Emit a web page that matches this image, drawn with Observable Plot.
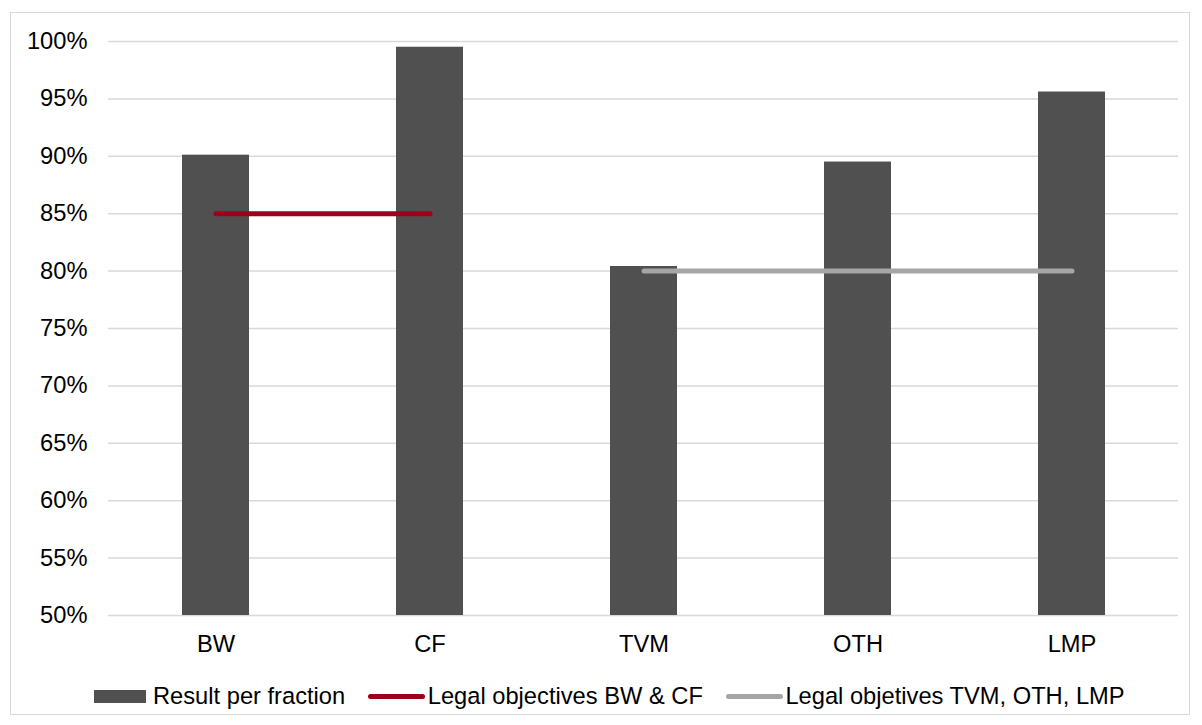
<!DOCTYPE html>
<html>
<head>
<meta charset="utf-8">
<script src="https://cdn.jsdelivr.net/npm/d3@7"></script>
<script src="https://cdn.jsdelivr.net/npm/@observablehq/plot@0.6"></script>
<style>
  html, body { margin: 0; padding: 0; background: #fff; }
  #wrap { position: relative; width: 1202px; height: 725px; font-family: "Liberation Sans", Arial, sans-serif; }
  #frame { position: absolute; left: 10px; top: 12px; width: 1180px; height: 703px; border: 1.5px solid #d9d9d9; box-sizing: border-box; }
  #chart { position: absolute; left: 0; top: 0; }
  #legend { position: absolute; left: 94px; top: 682px; height: 28px; display: flex; align-items: center; font-size: 23.7px; line-height: 28px; color: #000; white-space: nowrap; }
  .item { display: flex; align-items: center; margin-right: 23px; }
  .box { width: 52px; height: 13px; margin-right: 7px; }
  .ln { width: 57px; height: 5px; border-radius: 3px; margin-right: 2.5px; }
</style>
</head>
<body>
<div id="wrap">
  <div id="frame"></div>
  <div id="chart"></div>
  <div id="legend"></div>
</div>
<script>
const categories = ["BW", "CF", "TVM", "OTH", "LMP"];
const results = [0.901, 0.995, 0.804, 0.895, 0.956];
const legalBWCFCats = ["BW", "CF"];
const legalBWCF = [0.85, 0.85];
const legalOtherCats = ["TVM", "OTH", "LMP"];
const legalOther = [0.80, 0.80, 0.80];
const yTicks = [0.5, 0.55, 0.6, 0.65, 0.7, 0.75, 0.8, 0.85, 0.9, 0.95, 1.0];
const seriesNames = ["Result per fraction", "Legal objectives BW & CF", "Legal objetives TVM, OTH, LMP"];
const colors = ["#505050", "#9e0019", "#a6a6a6"];

const barData = categories.map((c, i) => ({cat: c, value: results[i]}));
const redData = legalBWCFCats.map((c, i) => ({cat: c, value: legalBWCF[i]}));
const grayData = legalOtherCats.map((c, i) => ({cat: c, value: legalOther[i]}));

const chart = Plot.plot({
  width: 1202,
  height: 665,
  marginLeft: 108,
  marginRight: 24,
  marginTop: 41,
  marginBottom: 50,
  style: {fontFamily: "Liberation Sans, Arial, sans-serif", fontSize: "23.7px", color: "#000", background: "transparent"},
  x: {domain: categories, paddingInner: 0.687, paddingOuter: 0.3435, label: null, tickSize: 0, tickPadding: 20},
  y: {domain: [0.5, 1.0], ticks: yTicks, tickFormat: d3.format(".0%"), label: null, tickSize: 0, tickPadding: 21},
  marks: [
    Plot.gridY(yTicks, {stroke: "#d9d9d9", strokeOpacity: 1, strokeWidth: 1.5}),
    Plot.barY(barData, {x: "cat", y1: 0.5, y2: "value", fill: colors[0]}),
    Plot.line(redData, {x: "cat", y: "value", stroke: colors[1], strokeWidth: 5, strokeLinecap: "round"}),
    Plot.line(grayData, {x: "cat", y: "value", stroke: colors[2], strokeWidth: 5, strokeLinecap: "round"})
  ]
});
document.getElementById("chart").appendChild(chart);

const legend = document.getElementById("legend");
seriesNames.forEach((name, i) => {
  const item = document.createElement("div");
  item.className = "item";
  const sw = document.createElement("div");
  sw.className = i === 0 ? "box" : "ln";
  sw.style.background = colors[i];
  const t = document.createElement("span");
  t.textContent = name;
  item.appendChild(sw);
  item.appendChild(t);
  legend.appendChild(item);
});
</script>
</body>
</html>
